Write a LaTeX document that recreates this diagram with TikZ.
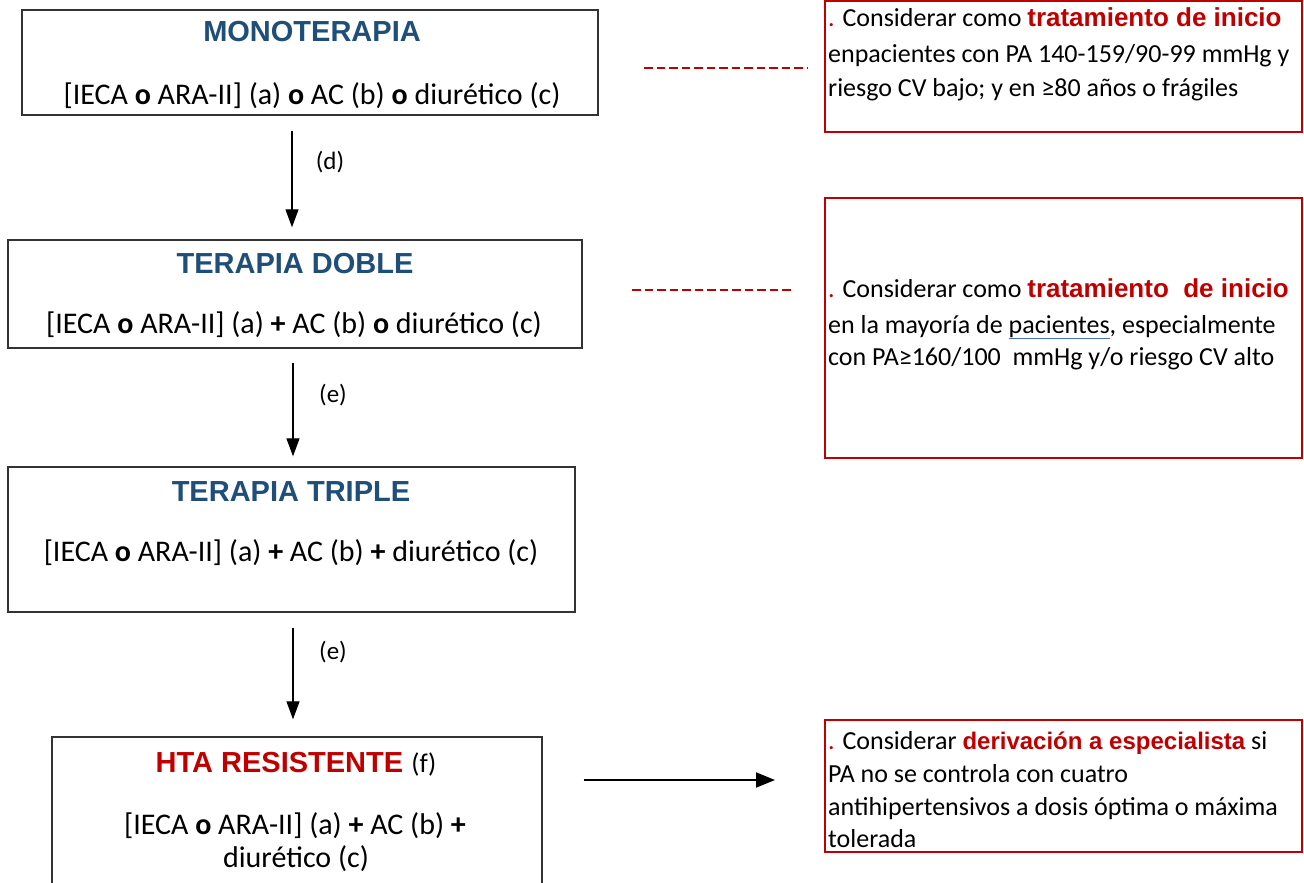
\documentclass[tikz,border=0pt]{standalone}
\usepackage{fontspec}
\setmainfont{Carlito}
\setsansfont{Liberation Sans}
\usetikzlibrary{arrows.meta,calc}
\definecolor{hblue}{HTML}{1F4E79}
\definecolor{hred}{HTML}{C00000}
\definecolor{ulblue}{HTML}{4472C4}
\newcommand{\redb}[1]{{\sffamily\bfseries\color{hred}#1}}
\begin{document}
\begin{tikzpicture}[x=1pt,y=-1pt,
  box/.style={draw=black!80, line width=1.4pt, rectangle, inner sep=0pt},
  note/.style={draw=hred, line width=2pt, rectangle, inner sep=0pt},
  htitle/.style={font=\fontsize{29}{34}\selectfont\sffamily\bfseries, text=hblue, inner sep=0pt, anchor=base},
  body/.style={font=\fontsize{30}{34}\selectfont, inner sep=0pt, anchor=base},
  ntext/.style={font=\fontsize{26}{33}\selectfont, inner sep=0pt, anchor=base west},
  lbl/.style={font=\fontsize{25}{30}\selectfont, inner sep=0pt},
  varr/.style={-{Triangle[length=18pt,width=13pt]}, line width=1.2pt},
  harr/.style={-{Triangle[length=19pt,width=15pt]}, line width=2pt},
  reddash/.style={draw=hred, line width=2pt, dash pattern=on 8.5pt off 4pt}
]
\useasboundingbox (0,0) rectangle (1304,883);
\clip (0,0) rectangle (1304,883);
\fill[white] (0,0) rectangle (1304,883);

% left boxes
\node[box, minimum width=576pt, minimum height=105pt] (box1) at (310,62.5) {};
\node[box, minimum width=574pt, minimum height=108pt] (box2) at (295,294) {};
\node[box, minimum width=567pt, minimum height=145pt] (box3) at (291.5,539.5) {};
\node[box, minimum width=490pt, minimum height=158pt] (box4) at (297,816) {};

% right notes
\node[note, minimum width=477pt, minimum height=131pt] (note1) at (1063.5,66.5) {};
\node[note, minimum width=477pt, minimum height=260pt] (note2) at (1063.5,328) {};
\node[note, minimum width=477pt, minimum height=132pt] (note3) at (1063.5,786) {};

% box texts
\node[htitle] (t1) at (312,42) {MONOTERAPIA};
\node[body] (b1) at (312,104) {[IECA \textbf{o} ARA-II] (a) \textbf{o} AC (b) \textbf{o} diurético (c)};
\node[htitle] (t2) at (295,273) {TERAPIA DOBLE};
\node[body] (b2) at (294,333) {[IECA \textbf{o} ARA-II] (a) \textbf{+} AC (b) \textbf{o} diurético (c)};
\node[htitle] (t3) at (291,501) {TERAPIA TRIPLE};
\node[body] (b3) at (291,561) {[IECA \textbf{o} ARA-II] (a) \textbf{+} AC (b) \textbf{+} diurético (c)};
\node[htitle, text=hred] (t4) at (296,772) {HTA RESISTENTE {\rmfamily\mdseries\color{black}\fontsize{27}{30}\selectfont(f)}};
\node[body] (b4a) at (295,834) {[IECA \textbf{o} ARA-II] (a) \textbf{+} AC (b) \textbf{+}};
\node[body] (b4b) at (296,867) {diurético (c)};

% note texts
\node[ntext] (n1a) at (828,27) {{\color{hred}.} Considerar como \redb{tratamiento de inicio}};
\node[ntext] (n1b) at (828,63) {enpacientes con PA 140-159/90-99 mmHg y};
\node[ntext] (n1c) at (828,96) {riesgo CV bajo; y en ≥80 años o frágiles};

\node[ntext] (n2a) at (828,297) {{\color{hred}.} Considerar como \redb{tratamiento\ \ de inicio}};
\node[ntext] (n2b) at (828,333) {en la mayoría de {\color{ulblue}\underline{\color{black}pacientes}}, especialmente};
\node[ntext] (n2c) at (828,365) {con PA≥160/100\ \ mmHg y/o riesgo CV alto};

\node[ntext] (n3a) at (828,749) {{\color{hred}.} Considerar {\fontsize{24}{28}\selectfont\redb{derivación a especialista}} si};
\node[ntext] (n3b) at (828,782) {PA no se controla con cuatro};
\node[ntext] (n3c) at (828,815) {antihipertensivos a dosis óptima o máxima};
\node[ntext] (n3d) at (828,847) {tolerada};

% vertical arrows with labels
\draw[varr] ([xshift=-18pt,yshift=-15pt]box1.south) -- ([xshift=-3pt,yshift=12pt]box2.north);
\node[lbl] (ld) at (330,162) {(d)};
\draw[varr] ([xshift=-2pt,yshift=-14pt]box2.south) -- ([xshift=1.5pt,yshift=10pt]box3.north);
\node[lbl] (le1) at (333,395) {(e)};
\draw[varr] ([xshift=1.5pt,yshift=-15pt]box3.south) -- ([xshift=-4pt,yshift=17pt]box4.north);
\node[lbl] (le2) at (333,652) {(e)};

% horizontal arrow
\draw[harr] ([xshift=41pt,yshift=36pt]box4.east) -- ([xshift=-49pt,yshift=6pt]note3.west);

% dashed connectors
\draw[reddash] ([xshift=-180pt,yshift=-1.5pt]note1.west) -- ([xshift=-17pt,yshift=-1.5pt]note1.west);
\draw[reddash] ([xshift=-192pt,yshift=38pt]note2.west) -- ([xshift=-30pt,yshift=38pt]note2.west);
\end{tikzpicture}
\end{document}
